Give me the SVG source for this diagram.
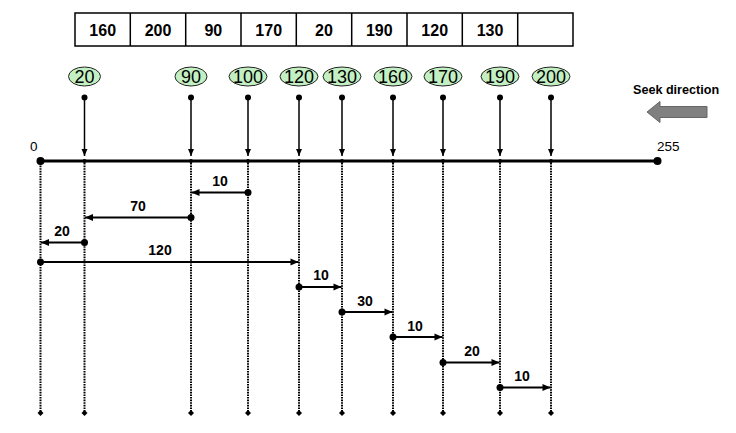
<svg xmlns="http://www.w3.org/2000/svg" width="736" height="433" viewBox="0 0 736 433">
<style>
.t{font-family:"Liberation Sans",Arial,sans-serif;font-weight:bold;font-size:16px;text-anchor:middle;fill:#000}
.e{fill:#c3f0c3;stroke:#222;stroke-width:1}
.et{font-family:"Liberation Sans",Arial,sans-serif;font-size:18px;text-anchor:middle;fill:#000}
.lb{font-family:"Liberation Sans",Arial,sans-serif;font-weight:bold;font-size:14px;text-anchor:middle;fill:#000}
.ax{font-family:"Liberation Sans",Arial,sans-serif;font-size:13.5px;fill:#000}
.dl{stroke:#000;stroke-width:2;stroke-dasharray:1.6 1;fill:none}
.ar{stroke:#000;stroke-width:1.5;fill:none}
.mv{stroke:#000;stroke-width:2;fill:none}
</style>
<defs>
<marker id="ah" markerUnits="userSpaceOnUse" markerWidth="10" markerHeight="10" viewBox="0 0 10 10" refX="9" refY="5" orient="auto">
<path d="M1,1.5 L9,5 L1,8.5 Z" fill="#000"/>
</marker>
<marker id="dn" markerUnits="userSpaceOnUse" markerWidth="8" markerHeight="8" viewBox="0 0 8 8" refX="7" refY="4" orient="auto">
<path d="M0,1 L7,4 L0,7 Z" fill="#000"/>
</marker>
</defs>
<rect width="736" height="433" fill="#fff"/>

<g id="queue">
<rect x="75" y="13" width="498" height="33" fill="#fff" stroke="#000" stroke-width="1.5"/>
<path d="M130.3,13V46M185.7,13V46M241,13V46M296.3,13V46M351.7,13V46M407,13V46M462.3,13V46M517.7,13V46" stroke="#000" stroke-width="1.5"/>
<text class="t" x="102.7" y="36">160</text>
<text class="t" x="158" y="36">200</text>
<text class="t" x="213.3" y="36">90</text>
<text class="t" x="268.7" y="36">170</text>
<text class="t" x="324" y="36">20</text>
<text class="t" x="379.3" y="36">190</text>
<text class="t" x="434.7" y="36">120</text>
<text class="t" x="490" y="36">130</text>
</g>

<g id="req-20"><ellipse class="e" cx="84.5" cy="76.5" rx="16" ry="9.5"/><text class="et" x="84.5" y="83">20</text></g>
<g id="req-90"><ellipse class="e" cx="191" cy="76.5" rx="16" ry="9.5"/><text class="et" x="191" y="83">90</text></g>
<g id="req-100"><ellipse class="e" cx="248" cy="76.5" rx="19" ry="9.5"/><text class="et" x="248" y="83">100</text></g>
<g id="req-120"><ellipse class="e" cx="299" cy="76.5" rx="19" ry="9.5"/><text class="et" x="299" y="83">120</text></g>
<g id="req-130"><ellipse class="e" cx="342" cy="76.5" rx="19" ry="9.5"/><text class="et" x="342" y="83">130</text></g>
<g id="req-160"><ellipse class="e" cx="393" cy="76.5" rx="19" ry="9.5"/><text class="et" x="393" y="83">160</text></g>
<g id="req-170"><ellipse class="e" cx="443" cy="76.5" rx="19" ry="9.5"/><text class="et" x="443" y="83">170</text></g>
<g id="req-190"><ellipse class="e" cx="500" cy="76.5" rx="19" ry="9.5"/><text class="et" x="500" y="83">190</text></g>
<g id="req-200"><ellipse class="e" cx="551" cy="76.5" rx="19" ry="9.5"/><text class="et" x="551" y="83">200</text></g>

<g id="seek">
<text x="633" y="94" font-family="Liberation Sans,Arial,sans-serif" font-weight="bold" font-size="12.6px">Seek direction</text>
<polygon points="647,112 660,101.5 660,106.5 707,106.5 707,117.5 660,117.5 660,122.5" fill="#808080" stroke="#666" stroke-width="1"/>
</g>

<g id="axis">
<line x1="40.5" y1="161" x2="657.5" y2="161" stroke="#000" stroke-width="3"/>
<circle cx="40.5" cy="161" r="4"/>
<circle cx="657.5" cy="161" r="4"/>
<text class="ax" x="30" y="151">0</text>
<text class="ax" x="657" y="151">255</text>
<g fill="#000">
<circle cx="84.5" cy="161" r="2"/><circle cx="191" cy="161" r="2"/><circle cx="248" cy="161" r="2"/><circle cx="299" cy="161" r="2"/><circle cx="342" cy="161" r="2"/><circle cx="393" cy="161" r="2"/><circle cx="443" cy="161" r="2"/><circle cx="500" cy="161" r="2"/><circle cx="551" cy="161" r="2"/>
</g>
</g>

<g id="connectors">
<g id="request-pointers" fill="#000">
<circle cx="84.5" cy="97.5" r="3"/><circle cx="191" cy="97.5" r="3"/><circle cx="248" cy="97.5" r="3"/><circle cx="299" cy="97.5" r="3"/><circle cx="342" cy="97.5" r="3"/><circle cx="393" cy="97.5" r="3"/><circle cx="443" cy="97.5" r="3"/><circle cx="500" cy="97.5" r="3"/><circle cx="551" cy="97.5" r="3"/>
<path class="ar" marker-end="url(#dn)" d="M84.5,97.5V156"/>
<path class="ar" marker-end="url(#dn)" d="M191,97.5V156"/>
<path class="ar" marker-end="url(#dn)" d="M248,97.5V156"/>
<path class="ar" marker-end="url(#dn)" d="M299,97.5V156"/>
<path class="ar" marker-end="url(#dn)" d="M342,97.5V156"/>
<path class="ar" marker-end="url(#dn)" d="M393,97.5V156"/>
<path class="ar" marker-end="url(#dn)" d="M443,97.5V156"/>
<path class="ar" marker-end="url(#dn)" d="M500,97.5V156"/>
<path class="ar" marker-end="url(#dn)" d="M551,97.5V156"/>
</g>
<g id="guides">
<path class="dl" d="M40.5,163V413M84.5,163V413M191,163V413M248,163V413M299,163V413M342,163V413M393,163V413M443,163V413M500,163V413M551,163V413"/>
<g fill="#000">
<path d="M40.5,410l3,3l-3,3l-3,-3z"/><path d="M84.5,410l3,3l-3,3l-3,-3z"/><path d="M191,410l3,3l-3,3l-3,-3z"/><path d="M248,410l3,3l-3,3l-3,-3z"/><path d="M299,410l3,3l-3,3l-3,-3z"/><path d="M342,410l3,3l-3,3l-3,-3z"/><path d="M393,410l3,3l-3,3l-3,-3z"/><path d="M443,410l3,3l-3,3l-3,-3z"/><path d="M500,410l3,3l-3,3l-3,-3z"/><path d="M551,410l3,3l-3,3l-3,-3z"/>
</g>
</g>
<g id="moves" fill="#000">
<circle cx="248" cy="192.5" r="3.5"/><path class="mv" marker-end="url(#ah)" d="M248,192.5H191.5"/>
<circle cx="191" cy="217.5" r="3.5"/><path class="mv" marker-end="url(#ah)" d="M191,217.5H85"/>
<circle cx="84.5" cy="242.5" r="3.5"/><path class="mv" marker-end="url(#ah)" d="M84.5,242.5H41"/>
<circle cx="40.5" cy="262" r="3.5"/><path class="mv" marker-end="url(#ah)" d="M40.5,262H298.5"/>
<circle cx="299" cy="287" r="3.5"/><path class="mv" marker-end="url(#ah)" d="M299,287H341.5"/>
<circle cx="342" cy="312" r="3.5"/><path class="mv" marker-end="url(#ah)" d="M342,312H392.5"/>
<circle cx="393" cy="337" r="3.5"/><path class="mv" marker-end="url(#ah)" d="M393,337H442.5"/>
<circle cx="443" cy="362.5" r="3.5"/><path class="mv" marker-end="url(#ah)" d="M443,362.5H499.5"/>
<circle cx="500" cy="387.5" r="3.5"/><path class="mv" marker-end="url(#ah)" d="M500,387.5H550.5"/>
</g>
<g id="move-labels">
<text class="lb" x="220" y="186">10</text>
<text class="lb" x="138" y="211">70</text>
<text class="lb" x="62" y="236">20</text>
<text class="lb" x="160" y="255">120</text>
<text class="lb" x="321" y="280">10</text>
<text class="lb" x="365" y="306">30</text>
<text class="lb" x="415" y="331">10</text>
<text class="lb" x="472" y="356">20</text>
<text class="lb" x="522" y="381">10</text>
</g>
</g>
</svg>
